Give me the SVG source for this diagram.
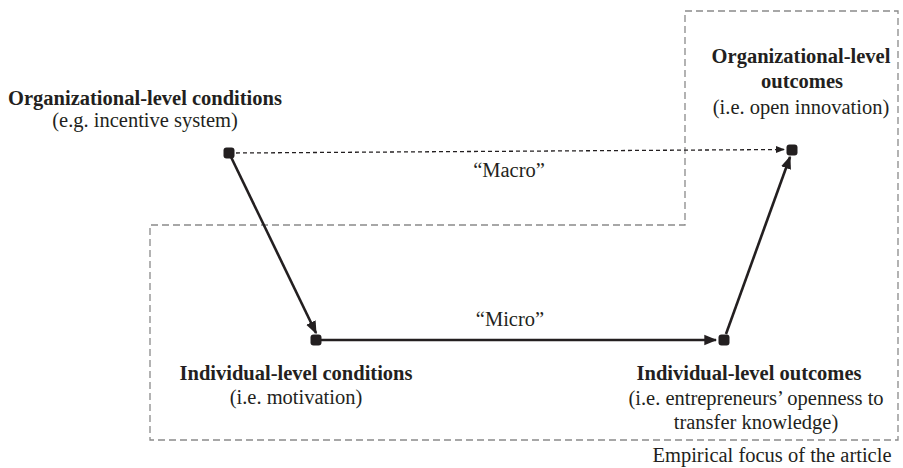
<svg xmlns="http://www.w3.org/2000/svg" width="903" height="468" viewBox="0 0 903 468">
  <style>
    text { font-family: "Liberation Serif", "Times New Roman", serif; font-size: 20.5px; fill: #231f20; text-anchor: middle; }
    .b { font-weight: bold; }
    .focus { fill: none; stroke: #8a8a8a; stroke-width: 1.3; stroke-dasharray: 7 4; }
    .solid { stroke: #231f20; stroke-width: 2.6; fill: none; }
    .dash { stroke: #231f20; stroke-width: 1.3; stroke-dasharray: 4 3; fill: none; }
    .dot { fill: #231f20; }
  </style>
  <defs>
    <marker id="ah" viewBox="0 0 10 10" refX="9" refY="5" markerWidth="5" markerHeight="5" orient="auto" markerUnits="strokeWidth">
      <path d="M0,1 L10,5 L0,9 Z" fill="#231f20"/>
    </marker>
    <marker id="ahd" viewBox="0 0 10 10" refX="9" refY="5" markerWidth="7" markerHeight="7" orient="auto" markerUnits="strokeWidth">
      <path d="M0,1 L10,5 L0,9 Z" fill="#231f20"/>
    </marker>
  </defs>

  <!-- empirical focus outline -->
  <g id="focus-area">
    <path class="focus" d="M685,11 L898,11 L898,440 L150,440 L150,225 L685,225 Z"/>
    <text x="772" y="462">Empirical focus of the article</text>
  </g>

  <!-- connectors -->
  <g id="connectors">
    <line class="dash" x1="236" y1="153" x2="784" y2="149.5" marker-end="url(#ahd)"/>
    <line class="solid" x1="231" y1="157" x2="316" y2="333" marker-end="url(#ah)"/>
    <line class="solid" x1="321" y1="340" x2="716" y2="340" marker-end="url(#ah)"/>
    <line class="solid" x1="726" y1="334" x2="790" y2="157" marker-end="url(#ah)"/>
    <text x="509" y="177">“Macro”</text>
    <text x="510" y="326">“Micro”</text>
  </g>

  <g id="org-conditions">
    <rect class="dot" x="223.5" y="147.5" width="11" height="11" rx="3"/>
    <text class="b" x="145" y="105">Organizational-level conditions</text>
    <text x="145" y="127">(e.g. incentive system)</text>
  </g>

  <g id="org-outcomes">
    <rect class="dot" x="786.5" y="144.5" width="11" height="11" rx="3"/>
    <text class="b" x="801" y="63">Organizational-level</text>
    <text class="b" x="802" y="88">outcomes</text>
    <text x="801" y="114">(i.e. open innovation)</text>
  </g>

  <g id="ind-conditions">
    <rect class="dot" x="310.5" y="334.5" width="11" height="11" rx="3"/>
    <text class="b" x="296" y="380">Individual-level conditions</text>
    <text x="296" y="404">(i.e. motivation)</text>
  </g>

  <g id="ind-outcomes">
    <rect class="dot" x="718.5" y="334.5" width="11" height="11" rx="3"/>
    <text class="b" x="749" y="380">Individual-level outcomes</text>
    <text x="756" y="405">(i.e. entrepreneurs’ openness to</text>
    <text x="756" y="429">transfer knowledge)</text>
  </g>
</svg>
